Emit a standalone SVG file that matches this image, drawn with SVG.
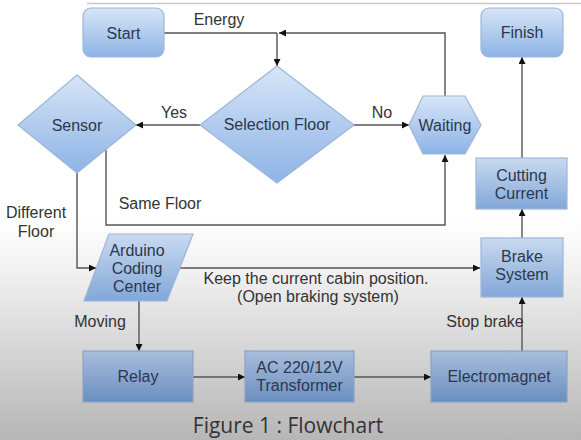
<svg xmlns="http://www.w3.org/2000/svg" width="581" height="440" viewBox="0 0 581 440">
<defs>
<linearGradient id="bg" x1="0" y1="0" x2="0" y2="1">
<stop offset="0" stop-color="#ffffff"/>
<stop offset="0.5" stop-color="#ffffff"/>
<stop offset="0.62" stop-color="#f0f0f0"/>
<stop offset="1" stop-color="#b6b6b6"/>
</linearGradient>
<linearGradient id="gTop" x1="0" y1="0" x2="0" y2="1">
<stop offset="0" stop-color="#d7e5f7"/>
<stop offset="1" stop-color="#8db3e6"/>
</linearGradient>
<linearGradient id="gMid" x1="0" y1="0" x2="0" y2="1">
<stop offset="0" stop-color="#c9daf0"/>
<stop offset="1" stop-color="#82a7d8"/>
</linearGradient>
<linearGradient id="gLow" x1="0" y1="0" x2="0" y2="1">
<stop offset="0" stop-color="#a9bedb"/>
<stop offset="1" stop-color="#6a8ec1"/>
</linearGradient>
<marker id="arr" viewBox="0 0 10 10" refX="10" refY="5" markerWidth="7" markerHeight="7" orient="auto" markerUnits="userSpaceOnUse">
<path d="M0,0 L10,5 L0,10 z" fill="#111"/>
</marker>
<style>
.node{stroke:#9db6d8;stroke-width:1.2}
.low{stroke:#8aa3c4;stroke-width:1.2}
.t{font-family:"Liberation Sans",Arial,sans-serif;font-size:16px;fill:#2b384c;text-anchor:middle}
.lbl{font-family:"Liberation Sans",Arial,sans-serif;font-size:16px;fill:#333;text-anchor:middle}
.c{fill:none;stroke:#555;stroke-width:1.4}
.ca{fill:none;stroke:#555;stroke-width:1.4;marker-end:url(#arr)}
</style>
</defs>
<rect x="0" y="0" width="581" height="440" fill="url(#bg)"/>
<line x1="87" y1="3.5" x2="581" y2="3.5" stroke="#c8c8c8" stroke-width="1.5"/>

<g id="connectors">
<path class="c" d="M164,33 H277"/>
<path class="ca" d="M277,33 V66"/>
<path class="ca" d="M445,96 V33 H279"/>
<path class="ca" d="M200,125 H136"/>
<path class="ca" d="M354,125 H409"/>
<path class="ca" d="M106,150 V225 H445 V155"/>
<path class="ca" d="M77,173 V268 H96"/>
<path class="ca" d="M180,268 H480"/>
<path class="ca" d="M139,301 V351"/>
<path class="ca" d="M193,377 H245"/>
<path class="ca" d="M354,377 H431"/>
<path class="ca" d="M522,351 V297"/>
<path class="ca" d="M522,238 V209"/>
<path class="ca" d="M522,158 V57"/>
<text class="lbl" x="219" y="25">Energy</text>
<text class="lbl" x="174" y="118">Yes</text>
<text class="lbl" x="382" y="118">No</text>
<text class="lbl" x="160" y="209">Same Floor</text>
<text class="lbl" x="36" y="218">Different</text>
<text class="lbl" x="36" y="237">Floor</text>
<text class="lbl" x="316" y="284">Keep the current cabin position.</text>
<text class="lbl" x="318" y="302">(Open braking system)</text>
<text class="lbl" x="100" y="327">Moving</text>
<text class="lbl" x="485" y="327">Stop brake</text>
</g>

<g id="start">
<rect class="node" x="83" y="8" width="81" height="49" rx="8" fill="url(#gTop)"/>
<text class="t" x="123.5" y="39">Start</text>
</g>
<g id="finish">
<rect class="node" x="481" y="8" width="82" height="49" rx="8" fill="url(#gTop)"/>
<text class="t" x="522" y="38">Finish</text>
</g>
<g id="selection-floor">
<polygon class="node" points="277,66 354,125 277,183 200,125" fill="url(#gTop)"/>
<text class="t" x="277" y="130">Selection Floor</text>
</g>
<g id="sensor">
<polygon class="node" points="77,75 136,125 77,173 18,125" fill="url(#gTop)"/>
<text class="t" x="77" y="131">Sensor</text>
</g>
<g id="waiting">
<polygon class="node" points="409,125 423,96 465,96 481,125 465,154 423,154" fill="url(#gTop)"/>
<text class="t" x="445" y="131">Waiting</text>
</g>
<g id="cutting-current">
<rect class="node" x="476" y="158" width="91" height="51" fill="url(#gMid)"/>
<text class="t" x="521.5" y="181">Cutting</text>
<text class="t" x="521.5" y="199">Current</text>
</g>
<g id="arduino">
<polygon class="node" points="109,234 193,234 167,301 84,301" fill="url(#gMid)"/>
<text class="t" x="137" y="256">Arduino</text>
<text class="t" x="137" y="274">Coding</text>
<text class="t" x="137" y="292">Center</text>
</g>
<g id="brake-system">
<rect class="node" x="481" y="238" width="82" height="59" fill="url(#gMid)"/>
<text class="t" x="522" y="262">Brake</text>
<text class="t" x="522" y="280">System</text>
</g>
<g id="relay">
<rect class="low" x="83" y="351" width="110" height="51" fill="url(#gLow)"/>
<text class="t" x="138" y="382">Relay</text>
</g>
<g id="transformer">
<rect class="low" x="245" y="351" width="109" height="51" fill="url(#gLow)"/>
<text class="t" x="299.5" y="373">AC 220/12V</text>
<text class="t" x="299.5" y="391">Transformer</text>
</g>
<g id="electromagnet">
<rect class="low" x="431" y="351" width="136" height="51" fill="url(#gLow)"/>
<text class="t" x="499" y="382">Electromagnet</text>
</g>
<text x="288" y="433" font-family="'Open Sans','Noto Sans',sans-serif" font-size="21" fill="#333" text-anchor="middle">Figure 1 : Flowchart</text>
</svg>
